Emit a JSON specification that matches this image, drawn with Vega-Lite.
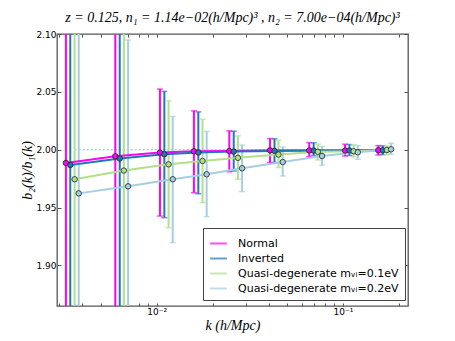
{
  "$schema": "https://vega.github.io/schema/vega-lite/v6.json",
  "width": 351,
  "height": 272,
  "autosize": {"type": "none"},
  "padding": {"left": 57, "top": 34, "right": 47, "bottom": 35},
  "background": "white",
  "config": {
    "view": {"stroke": "#555555", "strokeWidth": 1.3},
    "font": "DejaVu Sans"
  },
  "title": {
    "text": "z = 0.125, n₁ = 1.14e−02(h/Mpc)³ , n₂ = 7.00e−04(h/Mpc)³",
    "font": "Liberation Serif",
    "fontStyle": "italic",
    "fontWeight": "normal",
    "fontSize": 14,
    "color": "black",
    "offset": 5
  },
  "datasets": {
    "pts": [
      {"series": "Normal", "k": 0.00326, "y": 1.9886, "lo": 1.7, "hi": 2.3},
      {"series": "Normal", "k": 0.0060, "y": 1.9944, "lo": 1.7, "hi": 2.3},
      {"series": "Normal", "k": 0.01042, "y": 1.9976, "lo": 1.9427, "hi": 2.0524},
      {"series": "Normal", "k": 0.01585, "y": 1.9987, "lo": 1.9629, "hi": 2.0336},
      {"series": "Normal", "k": 0.02455, "y": 1.9989, "lo": 1.981, "hi": 2.0163},
      {"series": "Normal", "k": 0.0406, "y": 1.9995, "lo": 1.9889, "hi": 2.0097},
      {"series": "Normal", "k": 0.0659, "y": 1.9994, "lo": 1.9941, "hi": 2.0062},
      {"series": "Normal", "k": 0.1026, "y": 1.9993, "lo": 1.9946, "hi": 2.0048},
      {"series": "Normal", "k": 0.1547, "y": 1.9996, "lo": 1.9955, "hi": 2.0036},
      {"series": "Inverted", "k": 0.00344, "y": 1.9868, "lo": 1.7, "hi": 2.3},
      {"series": "Inverted", "k": 0.00634, "y": 1.9924, "lo": 1.7, "hi": 2.3},
      {"series": "Inverted", "k": 0.011, "y": 1.9961, "lo": 1.9413, "hi": 2.0504},
      {"series": "Inverted", "k": 0.01674, "y": 1.9976, "lo": 1.962, "hi": 2.0327},
      {"series": "Inverted", "k": 0.02592, "y": 1.9984, "lo": 1.9816, "hi": 2.016},
      {"series": "Inverted", "k": 0.0429, "y": 1.999, "lo": 1.989, "hi": 2.0095},
      {"series": "Inverted", "k": 0.0696, "y": 1.9993, "lo": 1.995, "hi": 2.006},
      {"series": "Inverted", "k": 0.1083, "y": 1.9993, "lo": 1.995, "hi": 2.0045},
      {"series": "Inverted", "k": 0.1634, "y": 1.9995, "lo": 1.9958, "hi": 2.0034},
      {"series": "Quasi-degenerate mᵥᵢ=0.1eV", "k": 0.00363, "y": 1.9745, "lo": 1.7, "hi": 2.3},
      {"series": "Quasi-degenerate mᵥᵢ=0.1eV", "k": 0.00667, "y": 1.982, "lo": 1.7, "hi": 2.3},
      {"series": "Quasi-degenerate mᵥᵢ=0.1eV", "k": 0.01159, "y": 1.9874, "lo": 1.9326, "hi": 2.0423},
      {"series": "Quasi-degenerate mᵥᵢ=0.1eV", "k": 0.01763, "y": 1.9903, "lo": 1.9543, "hi": 2.0264},
      {"series": "Quasi-degenerate mᵥᵢ=0.1eV", "k": 0.0273, "y": 1.993, "lo": 1.9745, "hi": 2.012},
      {"series": "Quasi-degenerate mᵥᵢ=0.1eV", "k": 0.0451, "y": 1.9958, "lo": 1.9846, "hi": 2.0082},
      {"series": "Quasi-degenerate mᵥᵢ=0.1eV", "k": 0.0733, "y": 1.9982, "lo": 1.9912, "hi": 2.0048},
      {"series": "Quasi-degenerate mᵥᵢ=0.1eV", "k": 0.1141, "y": 1.9987, "lo": 1.9938, "hi": 2.0042},
      {"series": "Quasi-degenerate mᵥᵢ=0.1eV", "k": 0.172, "y": 1.9998, "lo": 1.9958, "hi": 2.0033},
      {"series": "Quasi-degenerate mᵥᵢ=0.2eV", "k": 0.00382, "y": 1.9623, "lo": 1.7, "hi": 2.3},
      {"series": "Quasi-degenerate mᵥᵢ=0.2eV", "k": 0.00703, "y": 1.9684, "lo": 1.7, "hi": 2.0948},
      {"series": "Quasi-degenerate mᵥᵢ=0.2eV", "k": 0.0122, "y": 1.9745, "lo": 1.9197, "hi": 2.0287},
      {"series": "Quasi-degenerate mᵥᵢ=0.2eV", "k": 0.01856, "y": 1.9788, "lo": 1.9422, "hi": 2.0158},
      {"series": "Quasi-degenerate mᵥᵢ=0.2eV", "k": 0.02875, "y": 1.984, "lo": 1.9638, "hi": 2.004},
      {"series": "Quasi-degenerate mᵥᵢ=0.2eV", "k": 0.0475, "y": 1.9894, "lo": 1.9773, "hi": 2.0024},
      {"series": "Quasi-degenerate mᵥᵢ=0.2eV", "k": 0.0772, "y": 1.9946, "lo": 1.9866, "hi": 2.0028},
      {"series": "Quasi-degenerate mᵥᵢ=0.2eV", "k": 0.1201, "y": 1.9978, "lo": 1.9918, "hi": 2.0036},
      {"series": "Quasi-degenerate mᵥᵢ=0.2eV", "k": 0.1812, "y": 2.0004, "lo": 1.9961, "hi": 2.0056}
    ],
    "ref": [
      {"series": "Quasi-degenerate mᵥᵢ=0.1eV", "k0": 0.00363, "k1": 0.172, "y": 2.0},
      {"series": "Quasi-degenerate mᵥᵢ=0.2eV", "k0": 0.00382, "k1": 0.1812, "y": 2.0}
    ]
  },
  "resolve": {"axis": {"x": "independent", "y": "independent"}},
  "layer": [
    {
      "data": {"name": "ref"},
      "mark": {"type": "rule", "strokeDash": [2, 2], "strokeWidth": 1.2, "clip": true},
      "encoding": {
        "x": {"field": "k0", "type": "quantitative", "scale": {"type": "log", "domain": [0.00292, 0.2233], "nice": false}, "axis": null},
        "x2": {"field": "k1"},
        "y": {"field": "y", "type": "quantitative", "scale": {"domain": [1.865, 2.1], "nice": false, "zero": false}, "axis": null},
        "color": {"field": "series", "type": "nominal",
          "scale": {"domain": ["Normal", "Inverted", "Quasi-degenerate mᵥᵢ=0.1eV", "Quasi-degenerate mᵥᵢ=0.2eV"],
                    "range": ["#ff00ff", "#1f78b4", "#b2df8a", "#a6cee3"]},
          "legend": {
            "orient": "none", "legendX": 146, "legendY": 194, "title": null,
            "strokeColor": "#444444", "fillColor": "white", "padding": 6,
            "labelFont": "DejaVu Sans", "labelFontSize": 11, "labelColor": "black",
            "symbolType": "stroke", "symbolSize": 280, "symbolStrokeWidth": 2,
            "labelOffset": 10, "rowPadding": 0, "labelLimit": 300
          }
        }
      }
    },
    {
      "data": {"name": "pts"},
      "mark": {"type": "rule", "strokeWidth": 2, "clip": true},
      "encoding": {
        "x": {"field": "k", "type": "quantitative",
          "axis": {
            "orient": "bottom", "title": "k (h/Mpc)",
            "values": [0.003, 0.004, 0.005, 0.006, 0.007, 0.008, 0.009, 0.01, 0.02, 0.03, 0.04, 0.05, 0.06, 0.07, 0.08, 0.09, 0.1, 0.2],
            "labelExpr": "datum.value == 0.01 ? '10⁻²' : (datum.value == 0.1 ? '10⁻¹' : '')",
            "labelOverlap": false, "labelFlush": false,
            "labelFontSize": 9, "labelColor": "black", "labelPadding": 4,
            "tickSize": -3, "tickColor": "#555555", "domain": false, "grid": false,
            "titleFont": "Liberation Serif", "titleFontStyle": "italic", "titleFontWeight": "normal", "titleFontSize": 14, "titleColor": "black", "titlePadding": 2
          }
        },
        "y": {"field": "lo", "type": "quantitative",
          "axis": {
            "orient": "left", "title": "b₂(k)/b₁(k)",
            "values": [1.9, 1.95, 2.0, 2.05, 2.1], "format": ".2f",
            "labelFontSize": 9, "labelColor": "black", "labelPadding": 5,
            "tickSize": -4, "tickColor": "#555555", "domain": false, "grid": false,
            "titleFont": "Liberation Serif", "titleFontStyle": "italic", "titleFontWeight": "normal", "titleFontSize": 14, "titleColor": "black", "titlePadding": 1
          }
        },
        "y2": {"field": "hi"},
        "color": {"field": "series", "type": "nominal"}
      }
    },
    {
      "data": {"name": "pts"},
      "mark": {"type": "tick", "orient": "horizontal", "size": 6, "thickness": 1.5, "clip": true},
      "encoding": {
        "x": {"field": "k", "type": "quantitative", "axis": null},
        "y": {"field": "hi", "type": "quantitative", "axis": null},
        "color": {"field": "series", "type": "nominal"}
      }
    },
    {
      "data": {"name": "pts"},
      "mark": {"type": "tick", "orient": "horizontal", "size": 6, "thickness": 1.5, "clip": true},
      "encoding": {
        "x": {"field": "k", "type": "quantitative", "axis": null},
        "y": {"field": "lo", "type": "quantitative", "axis": null},
        "color": {"field": "series", "type": "nominal"}
      }
    },
    {
      "data": {"name": "pts"},
      "mark": {"type": "line", "clip": true},
      "encoding": {
        "x": {"field": "k", "type": "quantitative", "axis": null},
        "y": {"field": "y", "type": "quantitative", "axis": null},
        "color": {"field": "series", "type": "nominal"},
        "strokeWidth": {"field": "series", "type": "nominal",
          "scale": {"domain": ["Normal", "Inverted", "Quasi-degenerate mᵥᵢ=0.1eV", "Quasi-degenerate mᵥᵢ=0.2eV"], "range": [2, 2, 1.3, 1.3]},
          "legend": null}
      }
    },
    {
      "data": {"name": "pts"},
      "mark": {"type": "point", "shape": "circle", "filled": true, "size": 30, "stroke": "#222222", "strokeWidth": 0.8, "opacity": 1, "clip": true},
      "encoding": {
        "x": {"field": "k", "type": "quantitative",
          "axis": {"orient": "top", "title": null, "labels": false,
            "values": [0.003, 0.004, 0.005, 0.006, 0.007, 0.008, 0.009, 0.01, 0.02, 0.03, 0.04, 0.05, 0.06, 0.07, 0.08, 0.09, 0.1, 0.2],
            "tickSize": -3, "tickColor": "#555555", "domain": false, "grid": false}},
        "y": {"field": "y", "type": "quantitative",
          "axis": {"orient": "right", "title": null, "labels": false,
            "values": [1.9, 1.95, 2.0, 2.05, 2.1],
            "tickSize": -4, "tickColor": "#555555", "domain": false, "grid": false}},
        "fill": {"field": "series", "type": "nominal",
          "scale": {"domain": ["Normal", "Inverted", "Quasi-degenerate mᵥᵢ=0.1eV", "Quasi-degenerate mᵥᵢ=0.2eV"],
                    "range": ["#ff00ff", "#1f78b4", "#b2df8a", "#a6cee3"]},
          "legend": null}
      }
    }
  ]
}
